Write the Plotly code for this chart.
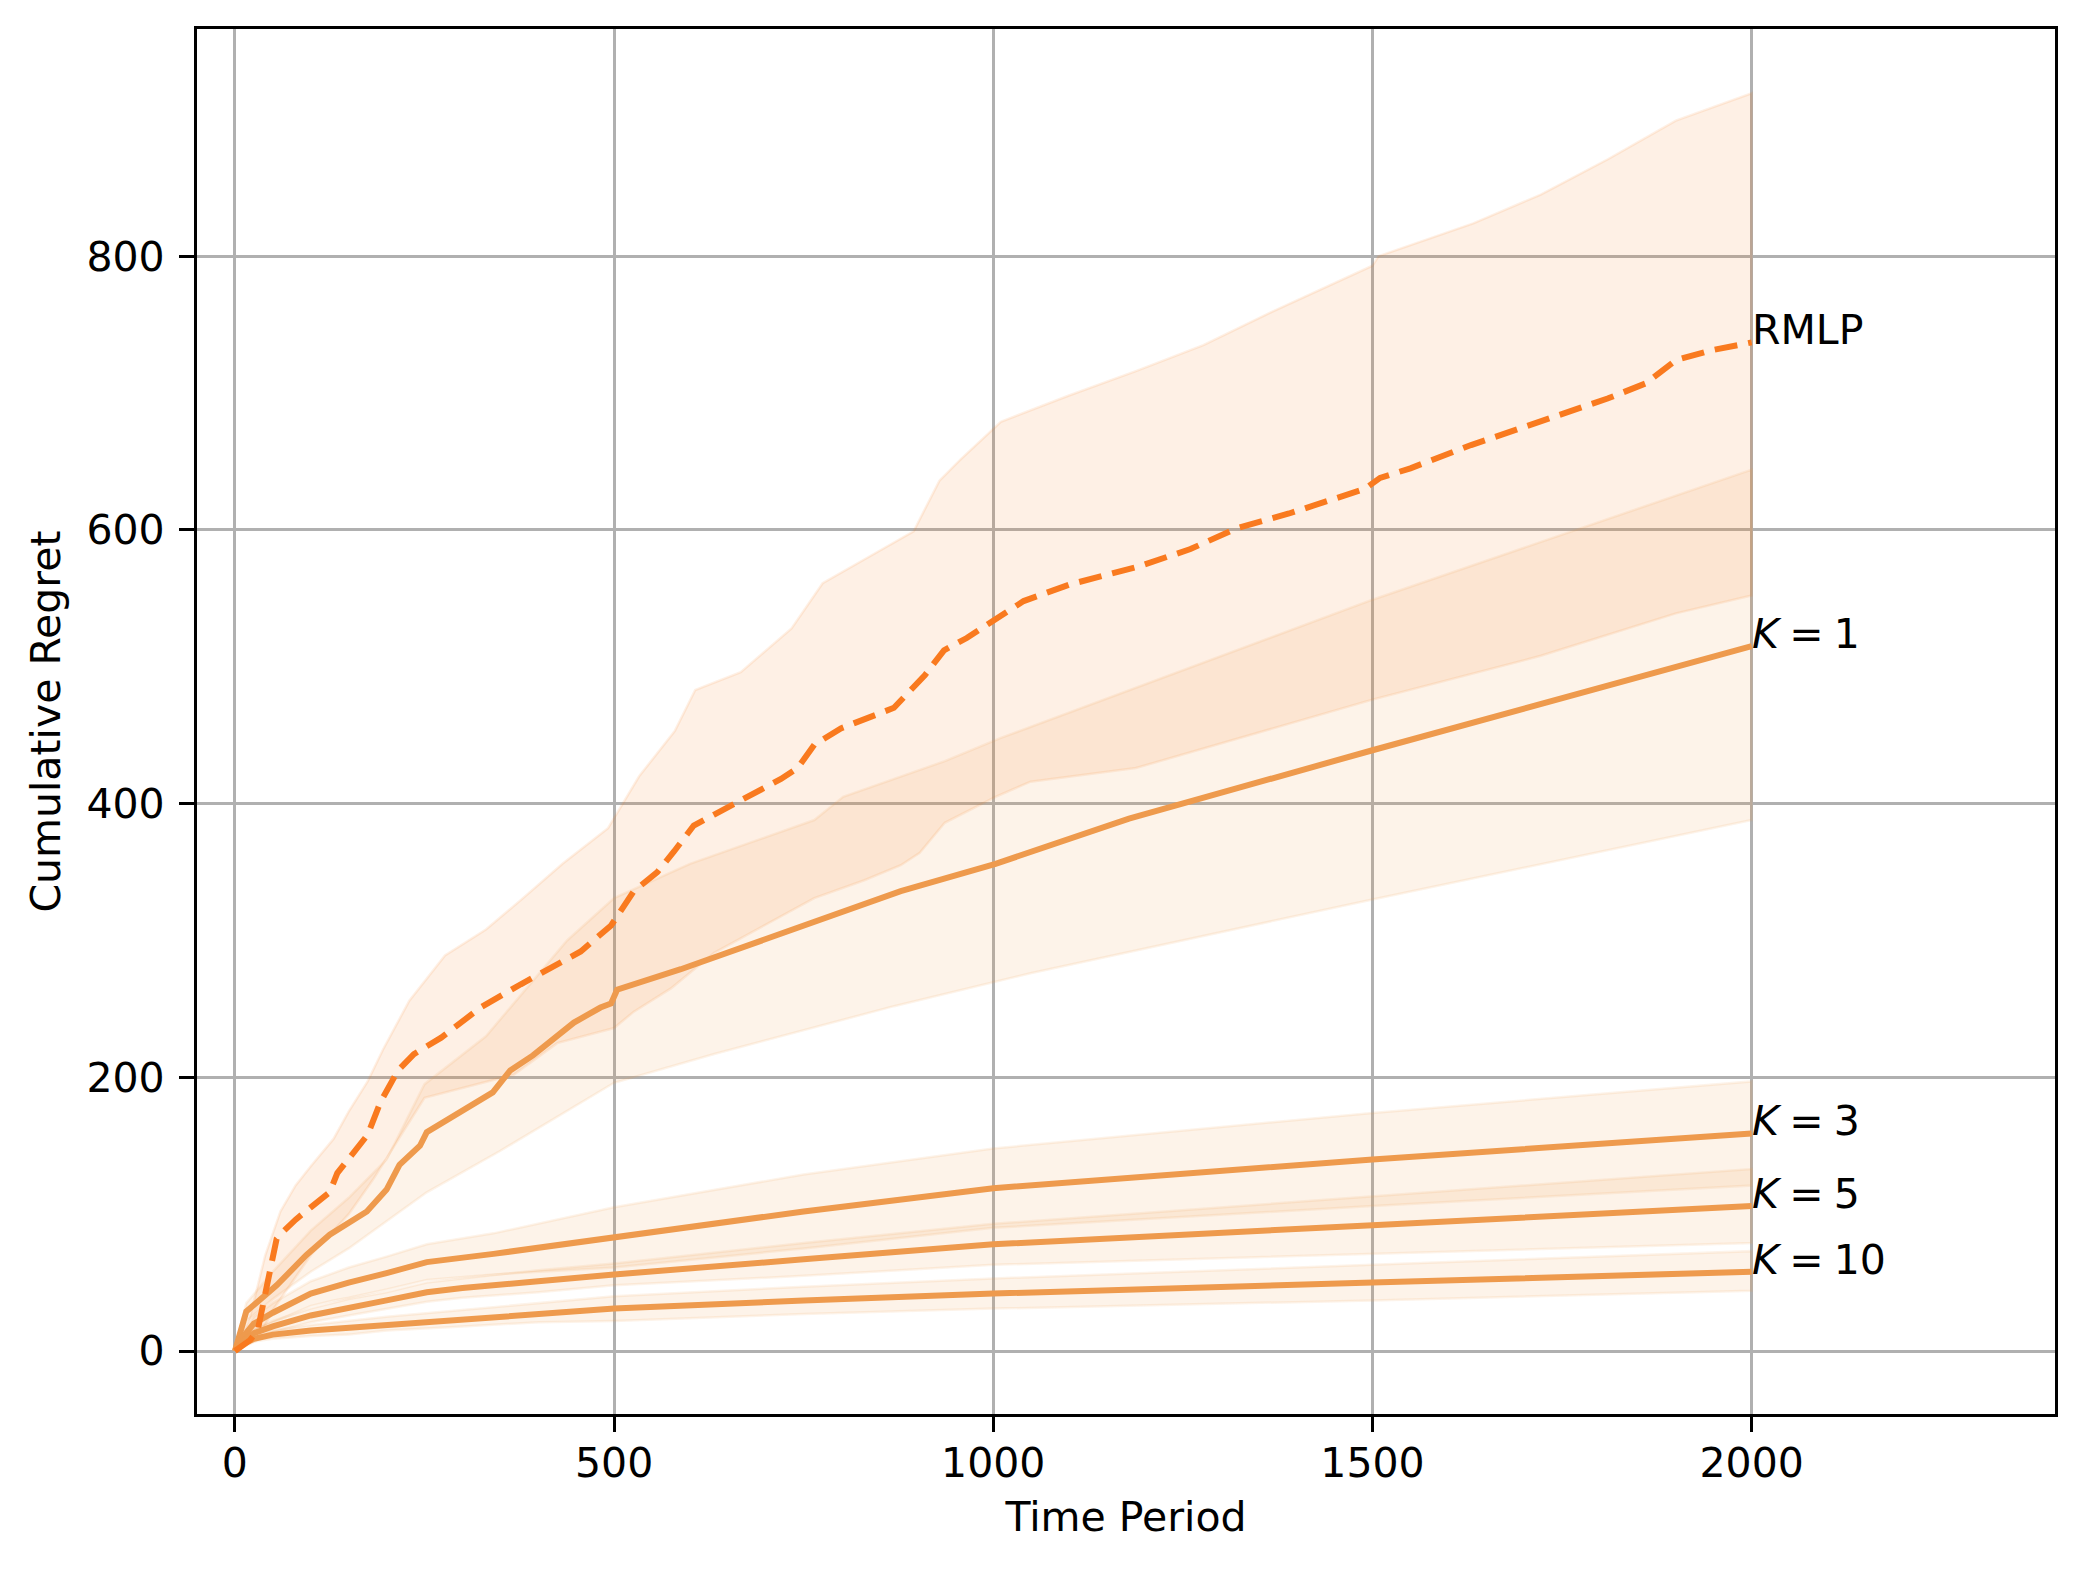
import plotly.graph_objects as go

# ---------------- data ----------------
x_rmlp = [0,10,20,30,40,50,55,65,80,100,125,135,150,175,192,215,236,272,324,377,456,496,526,557,579,605,632,671,720,742,764,799,869,910,935,965,1000,1040,1100,1190,1260,1320,1390,1490,1510,1550,1630,1720,1810,1860,1900,1945,2000]
y_rmlp = [0,4,8,15,40,70,82,88,96,105,116,130,140,158,182,205,217,229,251,268,292,311,336,350,365,384,392,403,418,426,443,455,470,494,512,521,533,548,560,573,586,601,612,630,638,645,662,679,696,707,724,731,737]

x_rmlp_up = [0,20,40,60,80,100,130,150,175,195,230,277,331,378,432,492,533,580,607,667,734,775,835,895,929,956,1010,1099,1188,1277,1366,1500,1508,1633,1722,1811,1900,2000]
y_rmlp_up = [0,25,70,102,121,135,155,175,197,220,256,289,308,330,356,382,420,453,483,496,528,561,580,599,636,651,679,698,716,735,759,793,800,824,845,871,899,919]

x_rmlp_lo = [0,30,50,100,150,183,250,368,425,500,526,575,632,764,830,878,903,936,1003,1049,1188,1500,1722,1900,2000]
y_rmlp_lo = [0,8,30,70,100,126,185,202,225,236,248,265,291,331,344,355,364,386,405,416,426,476,508,539,552]

x_k1 = [0,10,15,30,55,94,125,174,200,217,244,253,305,340,363,393,447,482,496,504,588,764,878,1003,1179,1500,2000]
y_k1 = [0,20,29,36,48,70,85,102,118,136,150,160,177,189,205,216,240,251,254,264,279,314,336,356,389,439,515]

x_k1_up = [0,15,50,100,150,200,250,331,438,500,600,764,802,936,1010,1500,2000]
y_k1_up = [0,35,58,88,112,140,195,230,300,331,356,388,405,431,448,549,644]

x_k1_lo = [0,15,50,100,150,200,253,349,500,632,869,1049,1500,2000]
y_k1_lo = [0,22,38,58,75,95,116,146,196,217,252,276,330,388]

x_k3 = [0,10,25,50,100,130,150,200,253,341,500,750,1000,1500,2000]
y_k3 = [0,10,20,28,42,47,50,57,65,71,83,102,119,140,159]
y_k3_up = [0,12,25,35,51,57,61,69,78,86,105,129,148,174,197]
y_k3_lo = [0,8,15,21,33,37,39,45,52,56,61,75,90,106,121]

x_k5 = [0,10,25,50,100,150,200,253,300,400,500,750,1000,1500,2000]
y_k5 = [0,7,13,18,26,32,37,43,46,51,56,67,78,92,106]
y_k5_up = [0,8,16,22,31,38,43,50,53,59,64,79,93,113,133]
y_k5_lo = [0,6,10,14,21,26,31,36,39,43,48,55,63,71,79]

x_k10 = [0,10,25,50,100,150,200,300,400,500,750,1000,1500,2000]
y_k10 = [0,5,9,12,15,17,20,24,28,31,37,42,50,58]
y_k10_up = [0,6,11,15,19,22,25,30,35,40,47,53,63,73]
y_k10_lo = [0,4,7,9,11,12,15,18,21,22,27,31,37,44]

SP = "\u2005"
labels = ["RMLP", f"<i>K</i>{SP}={SP}1", f"<i>K</i>{SP}={SP}3",
          f"<i>K</i>{SP}={SP}5", f"<i>K</i>{SP}={SP}10"]

x_ticks = [0, 500, 1000, 1500, 2000]
y_ticks = [0, 200, 400, 600, 800]

# ---------------- style ----------------
RMLP_COLOR = "#f97a1f"
K_COLOR = "#ee9a4d"
RMLP_FILL = "rgba(249,115,22,0.11)"
K_FILL = "rgba(238,154,77,0.12)"
FONT = "DejaVu Sans"
FS = 41

fig = go.Figure()


def band(xu, yu, xl, yl, fill):
    fig.add_trace(go.Scatter(
        x=list(xu) + list(xl)[::-1],
        y=list(yu) + list(yl)[::-1],
        mode="lines", fill="toself", fillcolor=fill,
        line=dict(color=fill, width=2.5),
        hoverinfo="skip", showlegend=False))


# bands
band(x_rmlp_up, y_rmlp_up, x_rmlp_lo, y_rmlp_lo, RMLP_FILL)
band(x_k1_up, y_k1_up, x_k1_lo, y_k1_lo, K_FILL)
band(x_k3, y_k3_up, x_k3, y_k3_lo, K_FILL)
band(x_k5, y_k5_up, x_k5, y_k5_lo, K_FILL)
band(x_k10, y_k10_up, x_k10, y_k10_lo, K_FILL)

# lines
for xs, ys in [(x_k1, y_k1), (x_k3, y_k3), (x_k5, y_k5), (x_k10, y_k10)]:
    fig.add_trace(go.Scatter(x=xs, y=ys, mode="lines",
                             line=dict(color=K_COLOR, width=6),
                             showlegend=False))
fig.add_trace(go.Scatter(x=x_rmlp, y=y_rmlp, mode="lines",
                         line=dict(color=RMLP_COLOR, width=6, dash="23px,11px"),
                         showlegend=False))

# end labels
ends = [(x_rmlp[-1], y_rmlp[-1]), (x_k1[-1], y_k1[-1]), (x_k3[-1], y_k3[-1]),
        (x_k5[-1], y_k5[-1]), (x_k10[-1], y_k10[-1])]
for (xe, ye), lab in zip(ends, labels):
    fig.add_annotation(x=xe, y=ye, text=lab, showarrow=False,
                       xanchor="left", yanchor="bottom", yshift=-14, xshift=-2,
                       font=dict(family=FONT, size=FS, color="black"))

axis_common = dict(
    showgrid=True, gridcolor="#b0b0b0", gridwidth=3.3,
    showline=True, linecolor="black", linewidth=3.3, mirror=True,
    ticks="outside", ticklen=15, tickwidth=3.3, tickcolor="black",
    tickfont=dict(family=FONT, size=FS, color="black"),
    zeroline=False,
)

fig.update_layout(
    width=2085, height=1571,
    margin=dict(l=189, r=38, t=21, b=165, autoexpand=False),
    plot_bgcolor="white", paper_bgcolor="white",
    font=dict(family=FONT, size=FS, color="black"),
    xaxis=dict(range=[-50, 2400], tickvals=x_ticks, ticklabelstandoff=-4,
               title=dict(text="Time Period", font=dict(family=FONT, size=FS), standoff=16),
               **axis_common),
    yaxis=dict(range=[-46, 966], tickvals=y_ticks, ticklabelstandoff=6,
               title=dict(text="Cumulative Regret", font=dict(family=FONT, size=FS), standoff=14),
               **axis_common),
)

fig.write_html("out.html")
